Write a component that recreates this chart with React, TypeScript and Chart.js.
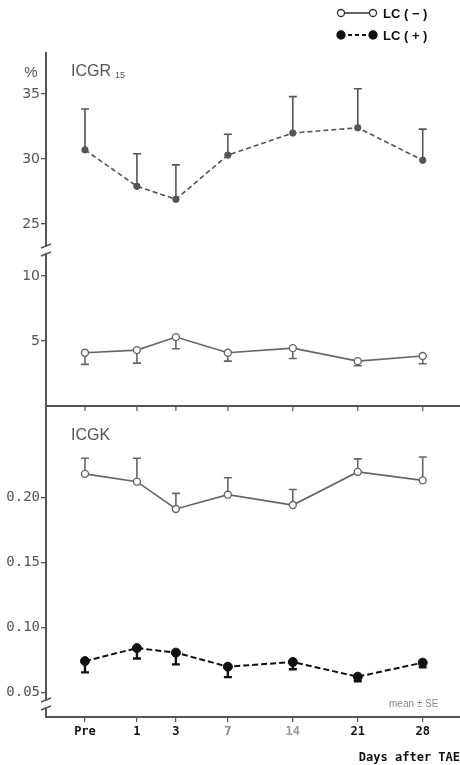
import React, { useEffect, useRef } from 'react';
import { Chart, registerables } from 'chart.js';

Chart.register(...registerables);

// ---- data ----
const categories = ['Pre', '1', '3', '7', '14', '21', '28'];
// position of each day on the original (non-uniform) day axis
const dayAxisSlots = [0, 4, 7, 11, 16, 21, 26];
const categoryColors = ['#111', '#111', '#111', '#8a8a8a', '#9a9a9a', '#111', '#111'];

const topTicks = [25, 30, 35];
const midTicks = [5, 10];
const bottomTicks = [0.05, 0.1, 0.15, 0.2];

// ICGR15 (%)
const icgr15LcPlus = [30.7, 27.9, 26.9, 30.3, 32.0, 32.4, 29.9];
const icgr15LcPlusSE = [3.15, 2.5, 2.65, 1.6, 2.8, 3.0, 2.4];
const icgr15LcMinus = [4.1, 4.3, 5.3, 4.1, 4.45, 3.45, 3.85];
const icgr15LcMinusSE = [0.9, 1.0, 0.9, 0.65, 0.8, 0.35, 0.6];

// ICGK
const icgkLcMinus = [0.218, 0.212, 0.191, 0.202, 0.194, 0.2195, 0.213];
const icgkLcMinusSE = [0.012, 0.018, 0.012, 0.013, 0.012, 0.01, 0.018];
const icgkLcPlus = [0.074, 0.084, 0.0805, 0.0697, 0.0733, 0.062, 0.0728];
const icgkLcPlusSE = [0.0087, 0.008, 0.009, 0.008, 0.0056, 0.0035, 0.0036];

const toPoints = (vals: number[]) => vals.map((v, i) => ({ x: dayAxisSlots[i], y: v }));

const errorBarPlugin = {
  id: 'errorBars',
  beforeDatasetsDraw(chart: any) {
    const ctx = chart.ctx;
    const xs = chart.scales.x;
    chart.data.datasets.forEach((ds: any) => {
      if (!ds.errors) return;
      const ys = chart.scales[ds.yAxisID];
      ctx.save();
      ctx.strokeStyle = ds.errorColor;
      ctx.lineWidth = ds.errorWidth;
      ds.data.forEach((p: any, i: number) => {
        const x = xs.getPixelForValue(p.x);
        const y0 = ys.getPixelForValue(p.y);
        const y1 = ys.getPixelForValue(p.y + ds.errorDir * ds.errors[i]);
        ctx.beginPath();
        ctx.moveTo(x, y0);
        ctx.lineTo(x, y1);
        ctx.moveTo(x - 4, y1);
        ctx.lineTo(x + 4, y1);
        ctx.stroke();
      });
      ctx.restore();
    });
  },
};

const decorPlugin = {
  id: 'decor',
  afterDraw(chart: any) {
    const ctx = chart.ctx;
    const area = chart.chartArea;
    const xs = chart.scales.x;
    const yTop = chart.scales.yTop;
    const yMid = chart.scales.yMid;
    const yBot = chart.scales.yBot;
    ctx.save();

    // divider line between panels (ICGR15 zero line)
    const yDiv = yMid.getPixelForValue(0);
    ctx.strokeStyle = '#555';
    ctx.lineWidth = 2;
    ctx.beginPath();
    ctx.moveTo(area.left - 1, yDiv);
    ctx.lineTo(area.right, yDiv);
    ctx.stroke();
    ctx.lineWidth = 1.2;
    dayAxisSlots.forEach((s) => {
      const x = xs.getPixelForValue(s);
      ctx.beginPath();
      ctx.moveTo(x, yDiv);
      ctx.lineTo(x, yDiv + 5);
      ctx.stroke();
    });

    // axis breaks
    const drawBreak = (yc: number) => {
      const ax = area.left;
      ctx.fillStyle = '#fff';
      ctx.fillRect(ax - 3, yc - 3, 6, 6);
      ctx.strokeStyle = '#555';
      ctx.lineWidth = 1.5;
      ctx.beginPath();
      ctx.moveTo(ax - 5, yc - 2);
      ctx.lineTo(ax + 5, yc - 6);
      ctx.moveTo(ax - 5, yc + 6);
      ctx.lineTo(ax + 5, yc + 2);
      ctx.stroke();
    };
    drawBreak(yTop.bottom);
    drawBreak(yBot.getPixelForValue(0.041));

    // labels
    ctx.fillStyle = '#555';
    ctx.textBaseline = 'middle';
    ctx.textAlign = 'center';
    ctx.font = '15px "Liberation Sans", Arial, sans-serif';
    ctx.fillText('%', 31, 73);
    ctx.textAlign = 'left';
    ctx.font = '16px "Liberation Sans", Arial, sans-serif';
    ctx.fillText('ICGR', 71, 72);
    const w = ctx.measureText('ICGR').width;
    ctx.font = '9px "Liberation Sans", Arial, sans-serif';
    ctx.fillText('15', 71 + w + 4, 76);
    ctx.font = '16px "Liberation Sans", Arial, sans-serif';
    ctx.fillText('ICGK', 71, 436);
    ctx.fillStyle = '#888';
    ctx.font = '10px "Liberation Sans", Arial, sans-serif';
    ctx.fillText('mean \u00b1 SE', 389, 704);

    // legend
    const legendRow = (y: number, filled: boolean, dashed: boolean, text: string) => {
      ctx.strokeStyle = filled ? '#111' : '#333';
      ctx.lineWidth = filled ? 2 : 1.5;
      ctx.setLineDash(dashed ? [4, 3] : []);
      ctx.beginPath();
      ctx.moveTo(341, y);
      ctx.lineTo(373, y);
      ctx.stroke();
      ctx.setLineDash([]);
      [341, 373].forEach((cx) => {
        ctx.beginPath();
        ctx.arc(cx, y, filled ? 4 : 3.5, 0, Math.PI * 2);
        ctx.fillStyle = filled ? '#111' : '#fff';
        ctx.fill();
        ctx.lineWidth = 1.3;
        ctx.stroke();
      });
      ctx.fillStyle = '#111';
      ctx.font = 'bold 13px "Liberation Sans", Arial, sans-serif';
      ctx.textAlign = 'left';
      ctx.fillText(text, 383, y + 1);
    };
    legendRow(13, false, false, 'LC ( \u2212 )');
    legendRow(35, true, true, 'LC ( + )');

    ctx.restore();
  },
};

const yBase = (ticks: number[], weight: number, stackWeight: number, min: number, max: number, mono: boolean) => ({
  type: 'linear' as const,
  position: 'left' as const,
  stack: 'y',
  stackWeight,
  weight,
  min,
  max,
  afterFit: (s: any) => {
    s.width = 46;
    s.paddingTop = 0;
    s.paddingBottom = 0;
  },
  afterBuildTicks: (s: any) => {
    s.ticks = ticks.map((v) => ({ value: v }));
  },
  grid: {
    drawOnChartArea: false,
    drawTicks: true,
    tickLength: 5,
    color: '#555',
    lineWidth: 1.3,
  },
  border: { display: true, color: '#555', width: 2 },
  ticks: {
    padding: 1,
    color: '#555',
    font: { family: mono ? '"DejaVu Sans Mono", monospace' : '"DejaVu Sans", sans-serif', size: 14 },
    callback: (v: any) => (mono ? Number(v).toFixed(2) : String(v)),
  },
});

export default function App() {
  const ref = useRef<HTMLCanvasElement>(null);
  useEffect(() => {
    const canvas = ref.current;
    if (!canvas) return;
    const chart = new Chart(canvas, {
      type: 'line',
      data: {
        datasets: [
          {
            label: 'ICGR15 LC(+)',
            data: toPoints(icgr15LcPlus),
            yAxisID: 'yTop',
            borderColor: '#555',
            borderWidth: 1.6,
            borderDash: [5, 3],
            pointRadius: 3.2,
            pointBackgroundColor: '#555',
            pointBorderColor: '#555',
            pointBorderWidth: 1,
            errors: icgr15LcPlusSE,
            errorDir: 1,
            errorColor: '#555',
            errorWidth: 1.6,
          } as any,
          {
            label: 'ICGR15 LC(-)',
            data: toPoints(icgr15LcMinus),
            yAxisID: 'yMid',
            borderColor: '#666',
            borderWidth: 1.6,
            pointRadius: 3.5,
            pointBackgroundColor: '#fff',
            pointBorderColor: '#666',
            pointBorderWidth: 1.4,
            errors: icgr15LcMinusSE,
            errorDir: -1,
            errorColor: '#666',
            errorWidth: 1.6,
          } as any,
          {
            label: 'ICGK LC(-)',
            data: toPoints(icgkLcMinus),
            yAxisID: 'yBot',
            borderColor: '#666',
            borderWidth: 1.6,
            pointRadius: 3.5,
            pointBackgroundColor: '#fff',
            pointBorderColor: '#666',
            pointBorderWidth: 1.4,
            errors: icgkLcMinusSE,
            errorDir: 1,
            errorColor: '#666',
            errorWidth: 1.6,
          } as any,
          {
            label: 'ICGK LC(+)',
            data: toPoints(icgkLcPlus),
            yAxisID: 'yBot',
            borderColor: '#111',
            borderWidth: 2,
            borderDash: [6, 3],
            pointRadius: 4.5,
            pointBackgroundColor: '#111',
            pointBorderColor: '#111',
            pointBorderWidth: 1,
            errors: icgkLcPlusSE,
            errorDir: -1,
            errorColor: '#111',
            errorWidth: 2.4,
          } as any,
        ],
      },
      options: {
        responsive: false,
        animation: false,
        devicePixelRatio: 1,
        layout: { autoPadding: false, padding: { top: 53, left: 0, right: 0, bottom: 0 } },
        plugins: {
          legend: { display: false },
          tooltip: { enabled: false },
        },
        scales: {
          x: {
            type: 'linear',
            min: -3,
            max: 28.87,
            afterFit: (s: any) => {
              s.height = 48;
              s.paddingLeft = 0;
              s.paddingRight = 0;
            },
            afterBuildTicks: (s: any) => {
              s.ticks = dayAxisSlots.map((v) => ({ value: v }));
            },
            grid: { drawOnChartArea: false, tickLength: 5, color: '#555', lineWidth: 1.2 },
            border: { display: true, color: '#555', width: 2 },
            ticks: {
              padding: 3,
              autoSkip: false,
              maxRotation: 0,
              color: categoryColors as any,
              font: { family: '"DejaVu Sans Mono", monospace', size: 12, weight: 'bold' },
              callback: (_v: any, i: number) => categories[i],
            },
            title: {
              display: true,
              text: 'Days after TAE',
              align: 'end',
              color: '#111',
              padding: { top: 4, bottom: 0 },
              font: { family: '"DejaVu Sans Mono", monospace', size: 12, weight: 'bold' },
            },
          },
          yTop: yBase(topTicks, 3, 197, 23, 38.154, false),
          yMid: yBase(midTicks, 2, 156, 0, 12, false),
          yBot: yBase(bottomTicks, 1, 311, 0.031, 0.2702, true),
        } as any,
      },
      plugins: [errorBarPlugin, decorPlugin],
    });
    return () => chart.destroy();
  }, []);
  return (
    <div style={{ position: 'absolute', left: 0, top: 0, width: 460, height: 765, background: '#fff' }}>
      <canvas ref={ref} width={460} height={765} style={{ display: 'block', width: 460, height: 765 }} />
    </div>
  );
}
